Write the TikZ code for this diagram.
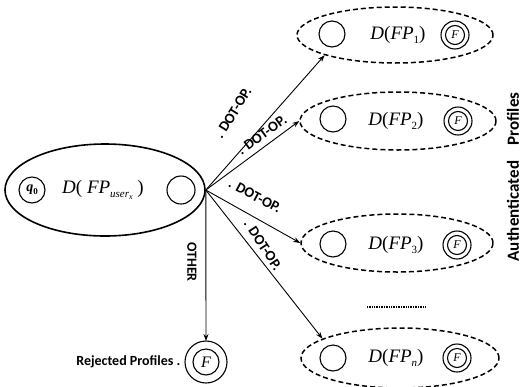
\documentclass[tikz,border=0pt]{standalone}
\usepackage{fontspec}
\setmainfont{Liberation Serif}
\newfontfamily\labfont{Carlito}
\usetikzlibrary{arrows.meta,shapes.geometric}
\newcommand\sublow[1]{\raisebox{-0.45ex}{#1}}
\newcommand\dfp[1]{\textit{D}(\textit{FP}\sublow{\fontsize{11}{11}\selectfont #1})}
\begin{document}
\begin{tikzpicture}[x=1pt,y=-1pt,
  ell/.style={ellipse,draw,line width=1.6pt,inner sep=0},
  dell/.style={ellipse,draw,line width=1.5pt,dash pattern=on 5pt off 3pt,inner sep=0,minimum width=196pt,minimum height=56pt},
  st/.style={circle,draw,line width=1.1pt,inner sep=0,minimum size=26pt},
  fin/.style={circle,draw,line width=1.1pt,inner sep=0,minimum size=19pt,font=\fontsize{12}{12}\selectfont\itshape},
  lbl/.style={font=\fontsize{19}{19}\selectfont},
  arr/.style={-{Stealth[length=7pt,width=5pt]},line width=0.9pt},
  dot/.style={font=\labfont\bfseries\fontsize{14.5}{14.5}\selectfont,inner sep=1pt},
  side/.style={font=\labfont\bfseries\fontsize{15}{15}\selectfont}
]
\useasboundingbox (0,0) rectangle (524,386);
% main automaton
\node[ell,minimum width=200pt,minimum height=92pt] (main) at (105,190) {};
\node[st,minimum size=26pt,font=\fontsize{14}{14}\selectfont] (q0) at (32,190) {\textbf{\textit{q}}\sublow{\fontsize{9}{9}\selectfont\bfseries 0}};
\node[lbl] (mainlbl) at (103,190) {\textit{D}( \textit{FP}\sublow{\fontsize{11}{11}\selectfont\itshape user\sublow{\fontsize{8}{8}\selectfont x}} )};
\node[st,minimum size=28pt] (m2) at (181,190) {};
% authenticated profiles
\node[dell] (e1) at (395,35) {};
\node[st] (c1) at (332,34) {};
\node[lbl] (t1) at (398,35) {\dfp{1}};
\node[fin] (f1) at (455,35) {F};
\draw[line width=1.1pt] (f1.center) circle (14pt);

\node[dell,minimum height=58pt] (e2) at (398,121) {};
\node[st] (c2) at (333,119) {};
\node[lbl] (t2) at (396,121) {\dfp{2}};
\node[fin] (f2) at (458,121) {F};
\draw[line width=1.1pt] (f2.center) circle (14pt);

\node[dell,minimum width=192pt,minimum height=58pt] (e3) at (397,243) {};
\node[st] (c3) at (333,244) {};
\node[lbl] (t3) at (396,245) {\dfp{3}};
\node[fin] (f3) at (457,245) {F};
\draw[line width=1.1pt] (f3.center) circle (14pt);

\coordinate (dA) at (367,307);
\coordinate (dB) at (425,307);
\draw[line width=1.3pt,dash pattern=on 1pt off 0.7pt] (dA) -- (dB);

\node[dell,minimum width=198pt,minimum height=60pt] (en) at (400,358) {};
\node[st] (cn) at (333,358) {};
\node[lbl] (tn) at (396,358) {\dfp{\textit{n}}};
\node[fin] (fn) at (457,358) {F};
\draw[line width=1.1pt] (fn.center) circle (14pt);

\node[side,rotate=90,font=\labfont\bfseries\fontsize{17}{17}\selectfont] (auth) at (513,177) {Authenticated\hspace{0.9em}Profiles};
% rejected
\node[fin,minimum size=26pt,font=\fontsize{16}{16}\selectfont\itshape] (rej) at (206,362) {F};
\draw[line width=1.1pt] (rej.center) circle (21pt);
\node[side,anchor=east,font=\labfont\bfseries\fontsize{14}{14}\selectfont] (rejlbl) at (184,362) {Rejected Profiles .};
% connectors
\coordinate (top) at (206,341);
\draw[arr] (main.east) -- (e1.196);
\draw[arr] (main.east) -- (e2.west);
\draw[arr] (main.east) -- (e3.west);
\draw[arr] (main.east) -- (en.166);
\draw[arr] (main.east) -- (top);
% labels
\node[dot,rotate=58] (l1) at (233,113) {. DOT-OP.};
\node[dot,rotate=36] (l2) at (262,135) {. DOT-OP.};
\node[dot,rotate=-28] (l3) at (255,196) {. DOT-OP.};
\node[dot,rotate=-57] (l4) at (263,245) {. DOT-OP.};
\node[dot,rotate=-90,font=\labfont\bfseries\fontsize{14}{14}\selectfont] (lo) at (192,262) {OTHER};
\end{tikzpicture}
\end{document}
